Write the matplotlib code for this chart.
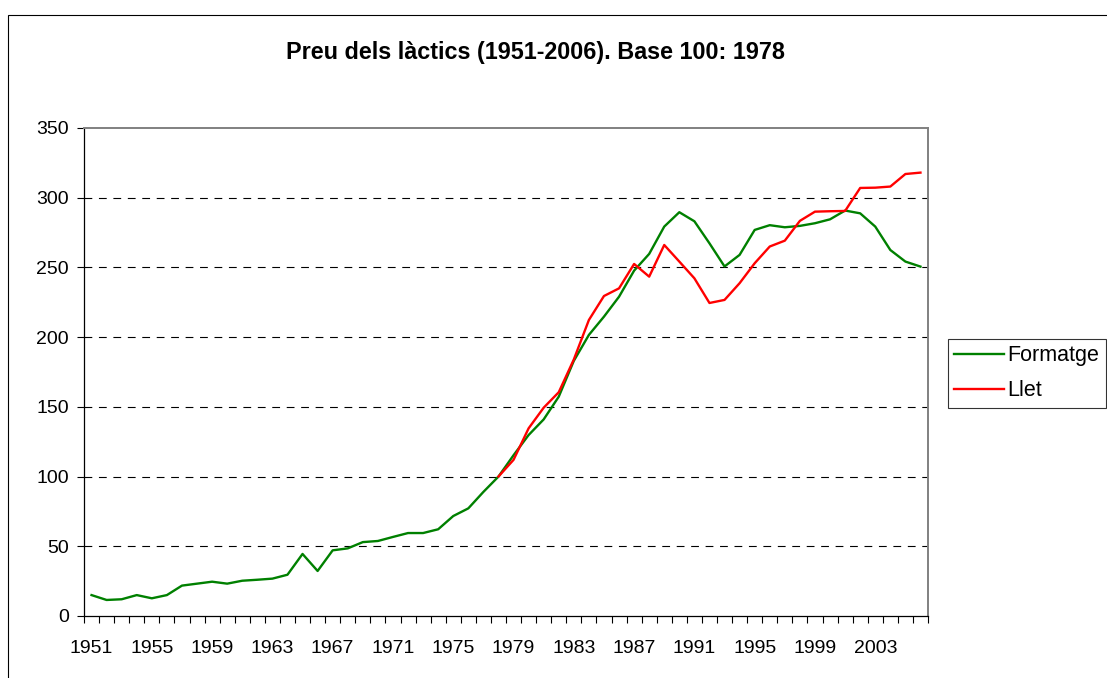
import numpy as np
import matplotlib
matplotlib.use('Agg')
import matplotlib.pyplot as plt
from matplotlib.patches import Rectangle

# --- DADES ---
anys = list(range(1951, 2007))
formatge = [15, 11.5, 12, 15, 12.7, 15, 21.8, 23.2, 24.6, 23.2,
            25.3, 26, 26.8, 29.6, 44.5, 32.3, 47.1, 48.5, 53, 53.8,
            56.7, 59.5, 59.5, 62.2, 71.7, 77.2, 89, 100, 115.3, 129.8,
            141, 157.3, 183, 201.6, 214.7, 229, 247.7, 259.7, 279.3, 289.6,
            283.1, 267.3, 250.7, 259, 276.9, 280.3, 278.8, 279.8, 281.7, 284.5,
            290.8, 288.8, 279.3, 262.5, 254.2, 250.6]
llet = [None] * 27 + [100, 112, 134.6,
                      149.4, 160.5, 184, 212.3, 229.5, 235, 252.5, 243.4, 266.1, 254.2,
                      242.2, 224.5, 226.7, 238.7, 253, 265, 269.2, 283.4, 290, 290.3,
                      290.5, 307, 307.2, 308, 317, 318]
yticks = list(range(0, 351, 50))
xlabels = list(range(1951, 2004, 4))

titol = 'Preu dels làctics (1951-2006). Base 100: 1978'

plt.rcParams['font.family'] = ['Liberation Sans', 'DejaVu Sans']

fig = plt.figure(figsize=(11.07, 6.78), dpi=100)
W, H = 1107, 678

# marc exterior del grafic
fig.patches.append(Rectangle((8 / W, -0.1), 1.2, 1 - 15 / H + 0.1, transform=fig.transFigure,
                             fill=False, edgecolor='black', linewidth=0.8))

ax = fig.add_axes([84 / W, 1 - 616 / H, (928 - 84) / W, (616 - 128) / H])

llet_arr = np.array([np.nan if v is None else v for v in llet], dtype=float)
ax.plot(anys, formatge, color='#008000', linewidth=1.7, label='Formatge')
ax.plot(anys, llet_arr, color='#FF0000', linewidth=1.7, label='Llet')

ax.set_xlim(1950.5, 2006.5)
ax.set_ylim(0, 350)

# linies de graella discontinues
for v in yticks[1:-1]:
    ax.axhline(v, color='black', linewidth=0.8, dashes=(7, 6), zorder=0)

ax.set_yticks(yticks)
ax.tick_params(axis='y', direction='out', length=5, width=0.8, labelsize=14, pad=6)

# etiquetes centrades a la categoria, marques a les fronteres
ax.set_xticks(xlabels)
ax.set_xticklabels([str(a) for a in xlabels])
ax.tick_params(axis='x', which='major', length=0, labelsize=14, pad=17)
ax.set_xticks(np.arange(1950.5, 2007, 1), minor=True)
ax.tick_params(axis='x', which='minor', direction='out', length=5, width=0.8)

for s in ['top', 'right']:
    ax.spines[s].set_color('#808080')
    ax.spines[s].set_linewidth(1.4)
for s in ['left', 'bottom']:
    ax.spines[s].set_color('black')
    ax.spines[s].set_linewidth(0.9)

fig.text(535 / W, 1 - 52 / H, titol, ha='center', va='center', fontsize=16.8, fontweight='bold')

leg = fig.legend(loc='upper left', bbox_to_anchor=(948 / W, 1 - 339 / H), fontsize=15.5,
                 frameon=True, fancybox=False, edgecolor='black', handlelength=2.3,
                 handletextpad=0.15, borderaxespad=0, borderpad=0.3, labelspacing=0.65)
leg.get_frame().set_linewidth(0.8)

fig.savefig('out.png', dpi=100)
